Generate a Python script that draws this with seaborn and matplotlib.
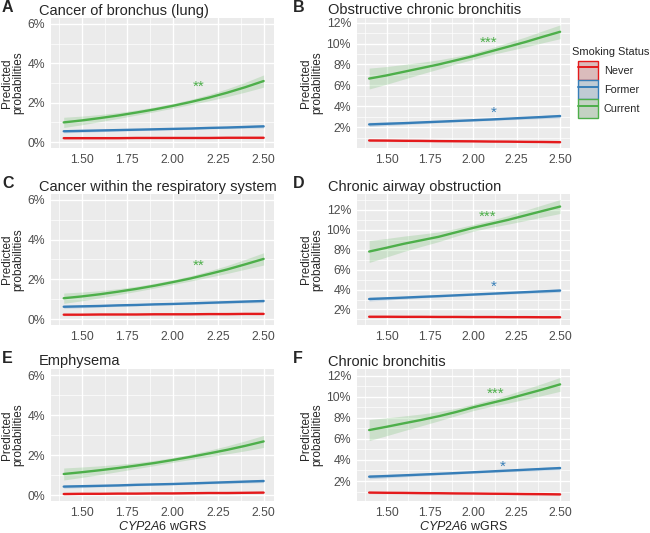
import numpy as np
import pandas as pd
import seaborn as sns
import matplotlib.pyplot as plt
from matplotlib.patches import Patch
from matplotlib.lines import Line2D
from matplotlib.legend_handler import HandlerTuple
from matplotlib.ticker import FuncFormatter, MultipleLocator

# =========================
# DATA (predicted probabilities, %)
# =========================
wgrs = [1.4, 1.5, 1.6, 1.7, 1.8, 1.9, 2.0, 2.1, 2.2, 2.3, 2.4, 2.5]
status = ["Never", "Former", "Current"]

# A - Cancer of bronchus (lung)
a_never = [0.20, 0.20, 0.20, 0.20, 0.21, 0.21, 0.21, 0.21, 0.21, 0.22, 0.22, 0.22]
a_former = [0.55, 0.57, 0.59, 0.61, 0.63, 0.65, 0.67, 0.69, 0.72, 0.74, 0.77, 0.80]
a_current = [1.00, 1.10, 1.22, 1.35, 1.50, 1.66, 1.84, 2.04, 2.26, 2.51, 2.79, 3.10]
a_current_ci = [0.26, 0.22, 0.18, 0.15, 0.13, 0.12, 0.12, 0.13, 0.16, 0.20, 0.25, 0.31]

# B - Obstructive chronic bronchitis
b_never = [0.72, 0.71, 0.69, 0.68, 0.66, 0.65, 0.64, 0.62, 0.61, 0.59, 0.58, 0.56]
b_former = [2.26, 2.32, 2.38, 2.45, 2.52, 2.59, 2.66, 2.73, 2.81, 2.89, 2.97, 3.06]
b_current = [6.65, 6.95, 7.30, 7.65, 8.00, 8.40, 8.80, 9.25, 9.70, 10.15, 10.65, 11.13]
b_current_ci = [1.00, 0.85, 0.70, 0.56, 0.44, 0.35, 0.31, 0.33, 0.40, 0.48, 0.57, 0.66]

# C - Cancer within the respiratory system
c_never = [0.22, 0.22, 0.23, 0.23, 0.23, 0.24, 0.24, 0.24, 0.25, 0.25, 0.26, 0.26]
c_former = [0.62, 0.64, 0.66, 0.69, 0.71, 0.74, 0.76, 0.79, 0.82, 0.85, 0.88, 0.91]
c_current = [1.05, 1.14, 1.25, 1.38, 1.52, 1.68, 1.86, 2.05, 2.27, 2.50, 2.76, 3.03]
c_current_ci = [0.26, 0.22, 0.18, 0.15, 0.13, 0.12, 0.12, 0.13, 0.16, 0.20, 0.25, 0.31]

# D - Chronic airway obstruction
d_never = [1.27, 1.27, 1.26, 1.26, 1.25, 1.25, 1.24, 1.24, 1.23, 1.23, 1.22, 1.22]
d_former = [3.05, 3.12, 3.19, 3.27, 3.34, 3.42, 3.50, 3.58, 3.66, 3.74, 3.82, 3.90]
d_current = [7.82, 8.20, 8.60, 8.95, 9.30, 9.75, 10.20, 10.60, 11.00, 11.45, 11.90, 12.34]
d_current_ci = [1.10, 0.93, 0.77, 0.62, 0.49, 0.39, 0.34, 0.36, 0.43, 0.52, 0.61, 0.70]

# E - Emphysema
e_never = [0.05, 0.06, 0.06, 0.07, 0.07, 0.08, 0.08, 0.09, 0.10, 0.10, 0.11, 0.12]
e_former = [0.42, 0.44, 0.46, 0.48, 0.51, 0.53, 0.55, 0.58, 0.61, 0.64, 0.67, 0.70]
e_current = [1.05, 1.14, 1.24, 1.35, 1.47, 1.60, 1.75, 1.91, 2.08, 2.26, 2.46, 2.68]
e_current_ci = [0.30, 0.26, 0.22, 0.18, 0.15, 0.13, 0.12, 0.13, 0.16, 0.20, 0.25, 0.30]

# F - Chronic bronchitis
f_never = [0.90, 0.88, 0.87, 0.85, 0.84, 0.82, 0.81, 0.79, 0.78, 0.76, 0.75, 0.73]
f_former = [2.41, 2.47, 2.54, 2.61, 2.68, 2.75, 2.83, 2.91, 2.99, 3.07, 3.15, 3.23]
f_current = [6.84, 7.15, 7.48, 7.80, 8.15, 8.55, 9.00, 9.40, 9.80, 10.25, 10.70, 11.18]
f_current_ci = [1.00, 0.85, 0.70, 0.56, 0.44, 0.35, 0.31, 0.33, 0.40, 0.48, 0.57, 0.66]

# CI half widths for the flatter series (small-scale / large-scale panels)
small_former_ci = [0.08, 0.07, 0.06, 0.05, 0.05, 0.04, 0.04, 0.05, 0.05, 0.06, 0.07, 0.08]
small_never_ci = [0.05, 0.04, 0.04, 0.03, 0.03, 0.03, 0.03, 0.03, 0.03, 0.04, 0.04, 0.05]
large_former_ci = [0.20, 0.17, 0.14, 0.12, 0.10, 0.09, 0.09, 0.10, 0.11, 0.13, 0.15, 0.17]
large_never_ci = [0.10, 0.09, 0.08, 0.07, 0.06, 0.06, 0.06, 0.06, 0.07, 0.07, 0.08, 0.09]

letters = ["A", "B", "C", "D", "E", "F"]
titles = ["Cancer of bronchus (lung)", "Obstructive chronic bronchitis",
          "Cancer within the respiratory system", "Chronic airway obstruction",
          "Emphysema", "Chronic bronchitis"]

panels = [
    (a_never, a_former, a_current, small_never_ci, small_former_ci, a_current_ci),
    (b_never, b_former, b_current, large_never_ci, large_former_ci, b_current_ci),
    (c_never, c_former, c_current, small_never_ci, small_former_ci, c_current_ci),
    (d_never, d_former, d_current, large_never_ci, large_former_ci, d_current_ci),
    (e_never, e_former, e_current, small_never_ci, small_former_ci, e_current_ci),
    (f_never, f_former, f_current, large_never_ci, large_former_ci, f_current_ci),
]

# significance stars: panel index, series, x, y (%)
stars = [
    (0, "Current", 2.14, 2.95, "**"),
    (1, "Current", 2.09, 10.35, "***"),
    (1, "Former", 2.12, 3.6, "*"),
    (2, "Current", 2.14, 2.85, "**"),
    (3, "Current", 2.08, 11.65, "***"),
    (3, "Former", 2.12, 4.55, "*"),
    (5, "Current", 2.13, 10.6, "***"),
    (5, "Former", 2.17, 3.65, "*"),
]

ylims = [(-0.3, 6.3), (0.0, 12.45), (-0.3, 6.3), (0.44, 13.6), (-0.3, 6.3), (0.1, 12.64)]

palette = {"Never": "#E41A1C", "Former": "#377EB8", "Current": "#4DAF4A"}

# =========================
# STYLE
# =========================
sns.set_style("darkgrid", {"axes.facecolor": "#EBEBEB", "grid.color": "white"})
plt.rcParams["font.family"] = ["Liberation Sans", "DejaVu Sans"]
plt.rcParams["mathtext.fontset"] = "custom"
plt.rcParams["mathtext.it"] = "Liberation Sans:italic"
plt.rcParams["mathtext.rm"] = "Liberation Sans"

fig = plt.figure(figsize=(6.5, 5.33), dpi=100)
W, H = 650, 533

# axes boxes in pixels: (left, right) and (top, bottom)
col_x = [(51, 274), (357, 570)]
row_y = [(18, 148), (194, 325), (369, 501)]

pct = FuncFormatter(lambda v, p: f"{v:.0f}%")

for i, (nv, fm, cu, nv_ci, fm_ci, cu_ci) in enumerate(panels):
    r, c = divmod(i, 2)
    x0, x1 = col_x[c]
    y0, y1 = row_y[r]
    ax = fig.add_axes([x0 / W, 1 - y1 / H, (x1 - x0) / W, (y1 - y0) / H])

    df = pd.DataFrame({
        "wgrs": wgrs * 3,
        "prob": nv + fm + cu,
        "ci": nv_ci + fm_ci + cu_ci,
        "status": ["Never"] * 12 + ["Former"] * 12 + ["Current"] * 12,
    })

    for s in status:
        sub = df[df.status == s]
        ax.fill_between(sub.wgrs, sub.prob - sub.ci, sub.prob + sub.ci,
                        color=palette[s], alpha=0.2, lw=0)

    sns.lineplot(data=df, x="wgrs", y="prob", hue="status", hue_order=status,
                 palette=palette, lw=1.7, legend=False, ax=ax)

    ax.set_xlim(1.33, 2.557)
    ax.set_ylim(*ylims[i])

    # stars: shift down a bit since the asterisk glyph sits high in its box
    span = ylims[i][1] - ylims[i][0]
    for (pi, s, sx, sy, txt) in stars:
        if pi == i:
            ax.text(sx, sy - 0.022 * span, txt, color=palette[s], fontsize=11,
                    ha="center", va="center")

    ax.set_xticks([1.5, 1.75, 2.0, 2.25, 2.5])
    ax.xaxis.set_minor_locator(MultipleLocator(0.125))
    if c == 0:
        ax.set_yticks([0, 2, 4, 6])
    else:
        ax.set_yticks([2, 4, 6, 8, 10, 12])
    ax.yaxis.set_minor_locator(MultipleLocator(1))
    ax.xaxis.set_major_formatter(FuncFormatter(lambda v, p: f"{v:.2f}"))
    ax.yaxis.set_major_formatter(pct)
    ax.grid(which="major", color="white", lw=1.0)
    ax.grid(which="minor", color="white", lw=0.5)
    ax.tick_params(which="major", length=2.8, width=0.9, color="#333333",
                   labelsize=8.8, labelcolor="#4D4D4D", pad=1.5)
    ax.tick_params(which="minor", length=0)
    for sp in ax.spines.values():
        sp.set_visible(False)

    ax.set_ylabel("Predicted\nprobabilities", fontsize=8.5, labelpad=2, linespacing=0.95)
    if r == 2:
        ax.set_xlabel(r"$\it{CYP2A6}$ wGRS", fontsize=9, labelpad=1)
    else:
        ax.set_xlabel("")

    # title and panel letter
    tx = 39 if c == 0 else 328
    lx = 2 if c == 0 else 293
    ty = y0 - 0.5
    fig.text(tx / W, 1 - ty / H, titles[i], fontsize=10.5, ha="left", va="bottom")
    fig.text(lx / W, 1 - (ty - 2.5) / H, letters[i], fontsize=11.5, fontweight="bold",
             ha="left", va="bottom")

# =========================
# LEGEND
# =========================
handles = []
for s in status:
    bg = Patch(facecolor="#D9D9D9", edgecolor="none")
    tint = Patch(facecolor=palette[s], alpha=0.15, edgecolor="none")
    edge = Patch(facecolor="none", edgecolor=palette[s], lw=1.0)
    ln = Line2D([], [], color=palette[s], lw=1.4)
    handles.append((bg, tint, edge, ln))

fig.text(572 / W, 1 - 57 / H, "Smoking Status", fontsize=7.9, ha="left", va="bottom")
fig.legend(handles, status,
           handler_map={tuple: HandlerTuple(ndivide=1, pad=0)},
           loc="upper left", bbox_to_anchor=(578 / W, 1 - 61 / H),
           frameon=False, fontsize=7.8,
           handlelength=1.85, handleheight=2.33, labelspacing=0.0,
           handletextpad=0.55, borderpad=0, borderaxespad=0)

fig.savefig("out.png", dpi=100)
